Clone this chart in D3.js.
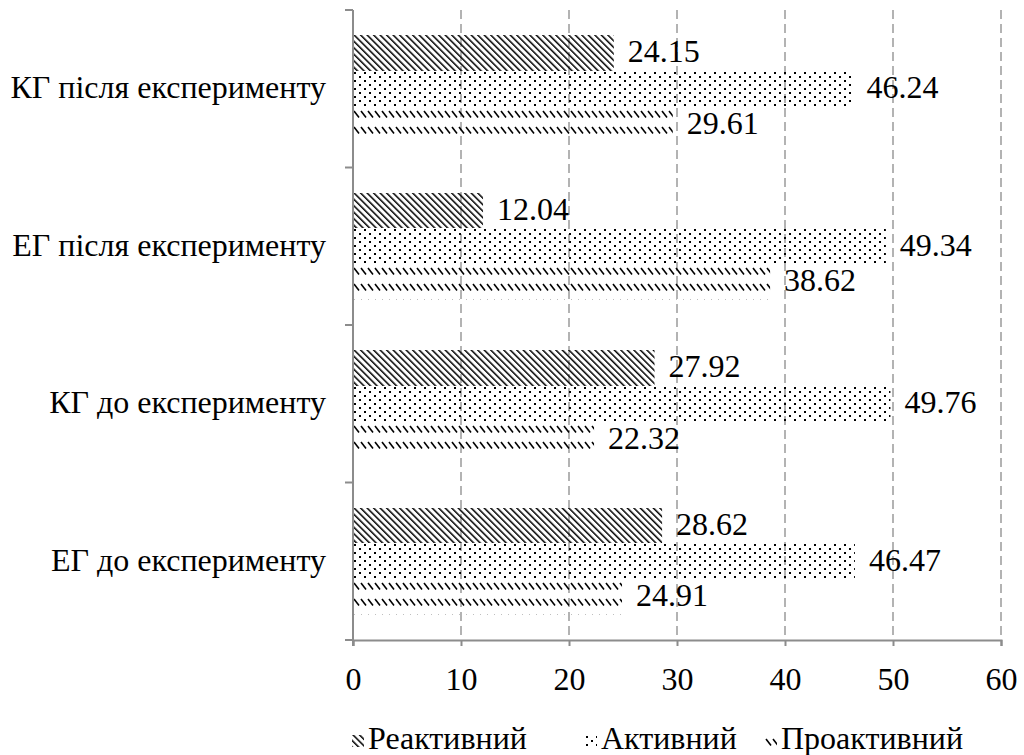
<!DOCTYPE html>
<html>
<head>
<meta charset="utf-8">
<script src="https://cdn.jsdelivr.net/npm/d3@7/dist/d3.min.js"></script>
<style>
  html, body { margin: 0; padding: 0; background: #fff; }
  svg { display: block; }
</style>
</head>
<body>
<svg id="chart" width="1024" height="755"></svg>
<script>
// Groups, listed bottom to top as they appear on the category axis
const categories = ["ЕГ до експерименту", "КГ до експерименту", "ЕГ після експерименту", "КГ після експерименту"];
const seriesNames = ["Реактивний", "Активний", "Проактивний"];
const reactive   = [28.62, 27.92, 12.04, 24.15];
const active     = [46.47, 49.76, 49.34, 46.24];
const proactive  = [24.91, 22.32, 38.62, 29.61];
const xTicks = [0, 10, 20, 30, 40, 50, 60];

const seriesValues = [reactive, active, proactive];
const patternIds = ["pat-reactive", "pat-active", "pat-proactive"];

const FONT = "'Liberation Serif', 'Times New Roman', serif";
const FS = 32;

const svg = d3.select("#chart");
const margin = { left: 353, right: 23, top: 10, bottom: 115 };
const W = 1024, H = 755;

// Fill patterns for the three series
const defs = svg.append("defs");
const p1 = defs.append("pattern").attr("id", patternIds[0])
  .attr("patternUnits", "userSpaceOnUse").attr("width", 4.6).attr("height", 4.6)
  .attr("patternTransform", "rotate(-45)");
p1.append("rect").attr("x", 0).attr("y", 0).attr("width", 1.5).attr("height", 4.6).attr("fill", "#000");

const p2 = defs.append("pattern").attr("id", patternIds[1])
  .attr("patternUnits", "userSpaceOnUse").attr("width", 10).attr("height", 8);
p2.append("rect").attr("x", 1).attr("y", 1).attr("width", 2).attr("height", 2).attr("fill", "#000");
p2.append("rect").attr("x", 6).attr("y", 5).attr("width", 2).attr("height", 2).attr("fill", "#000");

const p3 = defs.append("pattern").attr("id", patternIds[2])
  .attr("patternUnits", "userSpaceOnUse").attr("width", 7).attr("height", 16);
p3.append("line").attr("x1", 1).attr("y1", 4).attr("x2", 6).attr("y2", 10.5)
  .attr("stroke", "#000").attr("stroke-width", 1.6);

// Scales
const x = d3.scaleLinear().domain([0, 60]).range([margin.left, W - margin.right]);
const y = d3.scaleBand().domain(categories.slice().reverse())
  .range([margin.top, H - margin.bottom]).paddingInner(0.32).paddingOuter(0.16);
const ySub = d3.scaleBand().domain(seriesNames).range([0, y.bandwidth()]);

const plotTop = margin.top, plotBottom = H - margin.bottom;

// Vertical dashed gridlines
svg.append("g").selectAll("line")
  .data(xTicks.filter(t => t > 0))
  .join("line")
  .attr("x1", d => x(d)).attr("x2", d => x(d))
  .attr("y1", plotTop).attr("y2", plotBottom)
  .attr("stroke", "#9a9a9a").attr("stroke-width", 1.5)
  .attr("stroke-dasharray", "9,5");

// Bars: each bar sits in its own translated group (snapped to whole pixels)
// so its fill pattern starts cleanly at the bar's top edge
const groups = svg.append("g").selectAll("g")
  .data(categories)
  .join("g")
  .attr("transform", d => `translate(0,${y(d)})`);

seriesNames.forEach((s, si) => {
  groups.append("g")
    .attr("transform", d => {
      const top = Math.round(y(d) + ySub(s)) - y(d);
      return `translate(${x(0)},${top})`;
    })
    .append("rect")
    .attr("x", 0)
    .attr("y", 0)
    .attr("width", (d, i) => x(seriesValues[si][i]) - x(0))
    .attr("height", d => Math.round(y(d) + ySub(s) + ySub.bandwidth()) - Math.round(y(d) + ySub(s)))
    .attr("fill", `url(#${patternIds[si]})`);
});

// Value labels
seriesNames.forEach((s, si) => {
  groups.append("text")
    .attr("x", (d, i) => x(seriesValues[si][i]) + 14)
    .attr("y", ySub(s) + ySub.bandwidth() / 2 + 2)
    .attr("dominant-baseline", "middle")
    .attr("font-size", FS)
    .style("font-family", FONT)
    .attr("fill", "#000")
    .text((d, i) => seriesValues[si][i].toFixed(2));
});

// X axis
const xAxis = svg.append("g")
  .attr("transform", `translate(0,${plotBottom})`)
  .call(d3.axisBottom(x).tickValues(xTicks).tickSize(6).tickPadding(21).tickFormat(d3.format("d")));
xAxis.select(".domain").attr("stroke", "#8c8c8c").attr("stroke-width", 2);
xAxis.selectAll(".tick line").attr("stroke", "#8c8c8c").attr("stroke-width", 2);
xAxis.selectAll(".tick text").attr("font-size", FS).style("font-family", FONT).attr("fill", "#000");

// Y axis with boundary ticks between groups
const boundaries = d3.range(categories.length + 1).map(i => plotTop + i * y.step());
svg.append("line")
  .attr("x1", x(0)).attr("x2", x(0)).attr("y1", plotTop).attr("y2", plotBottom + 6)
  .attr("stroke", "#8c8c8c").attr("stroke-width", 2);
svg.append("g").selectAll("line")
  .data(boundaries)
  .join("line")
  .attr("x1", x(0) - 8).attr("x2", x(0))
  .attr("y1", d => d).attr("y2", d => d)
  .attr("stroke", "#8c8c8c").attr("stroke-width", 2);

// Category labels
svg.append("g").selectAll("text")
  .data(categories)
  .join("text")
  .attr("x", x(0) - 27)
  .attr("y", d => y(d) + y.bandwidth() / 2 + 2)
  .attr("text-anchor", "end")
  .attr("dominant-baseline", "middle")
  .attr("font-size", FS)
  .style("font-family", FONT)
  .attr("fill", "#000")
  .text(d => d);

// Legend
const legendX = [352, 585, 765];
const legend = svg.append("g").selectAll("g")
  .data(seriesNames)
  .join("g")
  .attr("transform", (d, i) => `translate(${legendX[i]},735)`);
legend.append("rect")
  .attr("width", 12).attr("height", 12)
  .attr("fill", (d, i) => `url(#${patternIds[i]})`);
legend.append("text")
  .attr("x", 16).attr("y", 7)
  .attr("dominant-baseline", "middle")
  .attr("font-size", FS)
  .style("font-family", FONT)
  .attr("fill", "#000")
  .text(d => d);
</script>
</body>
</html>
